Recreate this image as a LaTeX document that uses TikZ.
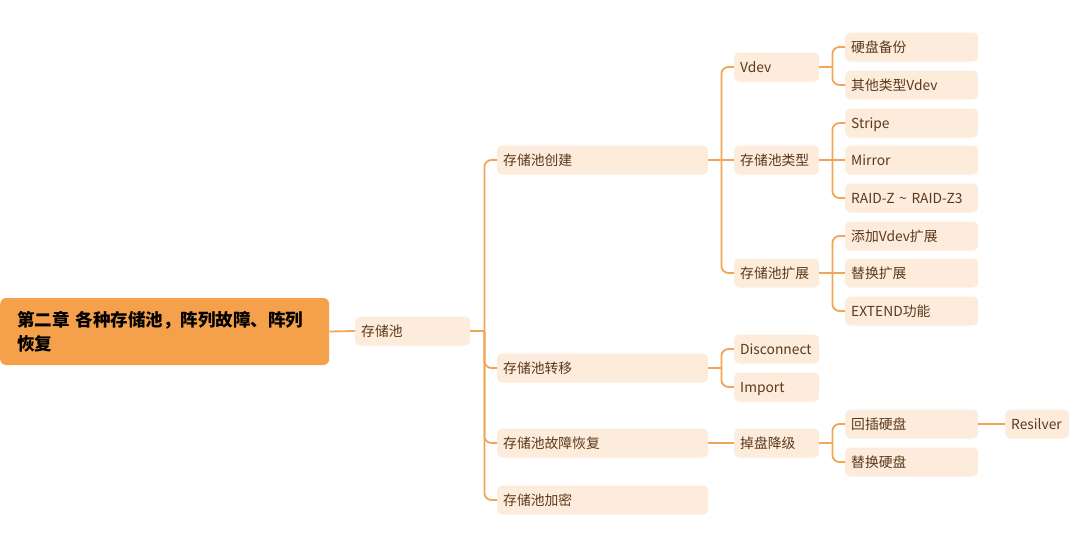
\documentclass[tikz,border=0pt]{standalone}
\usepackage{fontspec}
\setmainfont{Noto Sans CJK SC}
\definecolor{nodefill}{HTML}{FDEBDC}
\definecolor{rootfill}{HTML}{F5A04B}
\definecolor{txt}{HTML}{5A3A1C}
\definecolor{edgecol}{HTML}{F0A558}
\tikzset{
  box/.style={fill=nodefill, rounded corners=5pt, anchor=west, text=txt,
    font=\fontsize{13.8}{16}\selectfont, minimum height=29pt, inner xsep=6pt,
    inner ysep=7pt, text height=12.5pt, text depth=1.5pt, align=left},
  wa/.style={box, text width=103pt},
  wb/.style={box, text width=199pt},
  wc/.style={box, text width=73pt},
  wd/.style={box, text width=121pt},
  we/.style={box, text width=52pt},
  rootbox/.style={fill=rootfill, rounded corners=6pt, anchor=west, text=black,
    font=\fontsize{17.5}{24}\selectfont\bfseries, minimum height=67pt,
    inner xsep=17pt, text width=295pt, align=left},
  link/.style={draw=edgecol, line width=1.8pt, rounded corners=7pt}
}
\begin{document}
\begin{tikzpicture}[x=1pt,y=-1pt]
\useasboundingbox (0,0) rectangle (1082,533);
\node[rootbox] (root) at (0,331.5) {第二章 各种存储池，阵列故障、阵列\\恢复};
\node[wa] (pool) at (355,331) {存储池};
\node[wb] (b1) at (497,160) {存储池创建};
\node[wb] (b2) at (497,368) {存储池转移};
\node[wb] (b3) at (497,443) {存储池故障恢复};
\node[wb] (b4) at (497,500) {存储池加密};
\node[wc] (c1) at (734,67) {Vdev};
\node[wc] (c2) at (734,160) {存储池类型};
\node[wc] (c3) at (734,273) {存储池扩展};
\node[wc] (c4) at (734,349) {Disconnect};
\node[wc] (c5) at (734,387) {Import};
\node[wc] (c6) at (734,443) {掉盘降级};
\node[wd] (d1) at (845,47) {硬盘备份};
\node[wd] (d2) at (845,85) {其他类型Vdev};
\node[wd] (d3) at (845,123) {Stripe};
\node[wd] (d4) at (845,160) {Mirror};
\node[wd] (d5) at (845,198) {RAID-Z \textasciitilde{} RAID-Z3};
\node[wd] (d6) at (845,236) {添加Vdev扩展};
\node[wd] (d7) at (845,273) {替换扩展};
\node[wd] (d8) at (845,311) {EXTEND功能};
\node[wd] (d9) at (845,424) {回插硬盘};
\node[wd] (d10) at (845,462) {替换硬盘};
\node[we] (e1) at (1005,424) {Resilver};
\draw[link] (root.east) -- (pool.west);
% level 1 -> 2
\draw[link] (pool.east) -- ++(14,0);
\foreach \c in {b1,b2,b3,b4} \draw[link] (pool.east) ++(14,0) |- (\c.west);
% 存储池创建
\draw[link] (b1.east) -- (c2.west);
\foreach \c in {c1,c3} \draw[link] (b1.east) ++(13,0) |- (\c.west);
% 存储池转移
\draw[link] (b2.east) -- ++(13,0);
\foreach \c in {c4,c5} \draw[link] (b2.east) ++(13,0) |- (\c.west);
% 存储池故障恢复
\draw[link] (b3.east) -- (c6.west);
% Vdev
\draw[link] (c1.east) -- ++(13,0);
\foreach \c in {d1,d2} \draw[link] (c1.east) ++(13,0) |- (\c.west);
% 存储池类型
\draw[link] (c2.east) -- (d4.west);
\foreach \c in {d3,d5} \draw[link] (c2.east) ++(13,0) |- (\c.west);
% 存储池扩展
\draw[link] (c3.east) -- (d7.west);
\foreach \c in {d6,d8} \draw[link] (c3.east) ++(13,0) |- (\c.west);
% 掉盘降级
\draw[link] (c6.east) -- ++(13,0);
\foreach \c in {d9,d10} \draw[link] (c6.east) ++(13,0) |- (\c.west);
\draw[link] (d9.east) -- (e1.west);
\end{tikzpicture}
\end{document}
